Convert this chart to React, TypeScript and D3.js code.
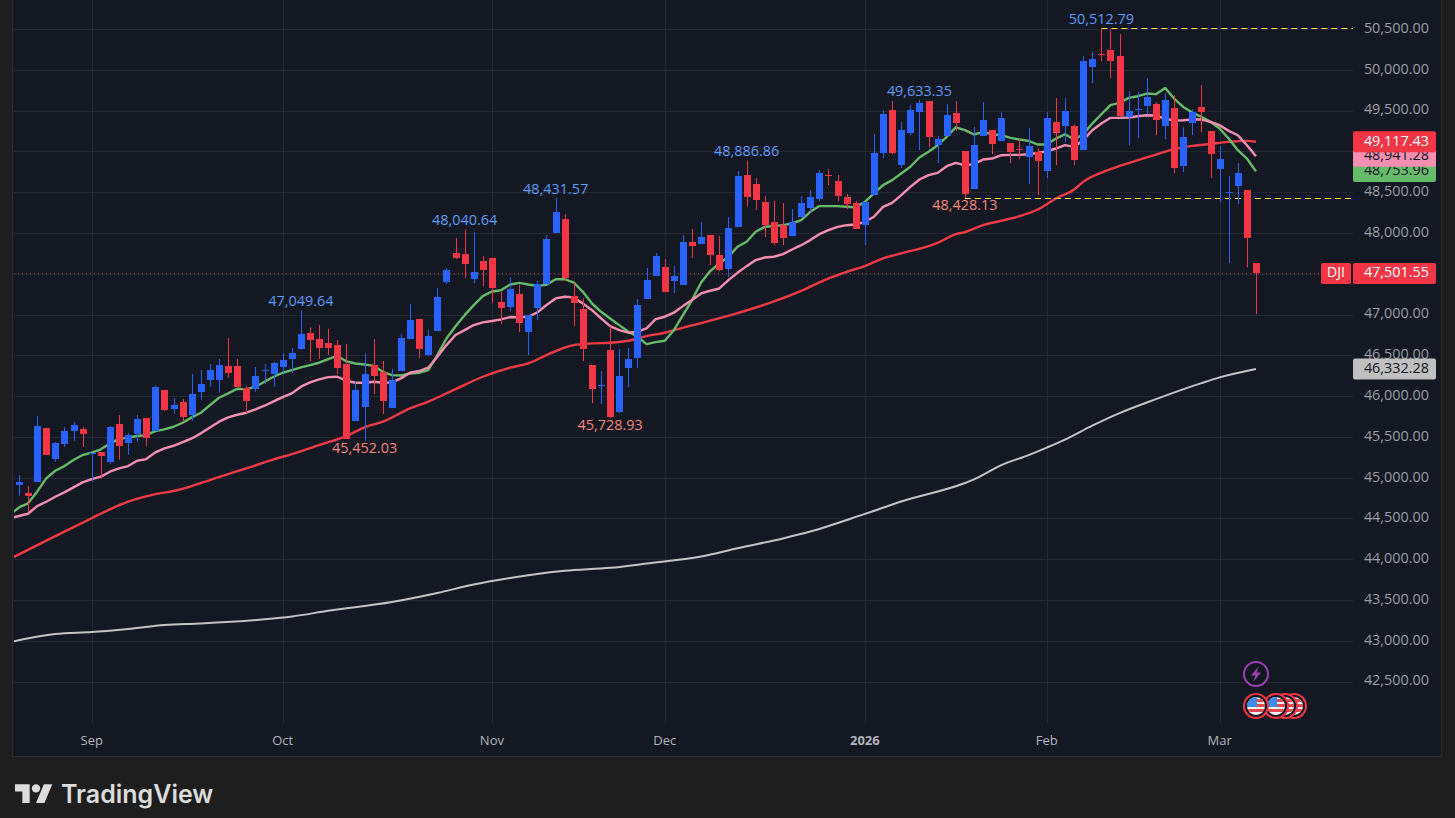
import * as d3 from 'd3';

// Dow Jones daily bars, Aug 2025 to Mar 2026
const opens = [44914,44811,44950,45608,45232,45412,45571,45596,45293,45314,45195,45657,45424,45534,45731,45571,46074,45841,45927,45767,46049,46196,46196,46368,46368,46098,46086,46311,46270,46356,46454,46576,46772,46699,46650,46625,46392,45698,45866,46380,46295,45853,46307,46699,46944,46503,46797,47398,47753,47741,47434,47655,47692,47152,47091,47250,46785,47079,47373,47998,48169,47226,47066,46380,46127,46564,45804,46344,46466,47189,47471,47581,47410,47361,47888,47863,47973,47728,47557,48072,48709,48598,48378,48133,48096,47961,48194,48304,48415,48709,48635,48439,48366,48096,48464,48978,49505,48831,49223,49481,49615,49076,49187,49469,49003,48537,49187,49260,49125,49100,49027,48929,48990,48757,49357,49308,49308,49014,50031,50191,50240,50166,49419,49517,49554,49578,49308,49529,48818,49345,49541,49247,48781,48487,48573,48524,47629];
const highs = [45032,44897,45755,45608,45436,45620,45682,45620,45302,45314,45633,45767,45547,45767,45731,46135,46074,45976,45963,46270,46319,46392,46454,46711,46454,46123,46356,46392,46425,46527,46588,47049.64,46842,46870,46825,46686,46637,46176,46523,46699,46429,46331,46760,47128,46944,46809,47324,47569,47937,48040.64,48010,47716,47692,47275,47459,47361,46993,47410,47974,48431.57,48230,47385,47201,46380,46307,46858,46576,46589,47189,47569,47753,47679,47594,47973,48047,48133,47973,47961,48194,48758,48886.86,48672,48451,48390,48366,48292,48451,48525,48770,48782,48709,48476,48390,48378,49211,49505,49616,49358,49567,49633.35,49615,49187,49579,49615,49003,49297,49603,49260,49480,49100,49149,49284,49039,49480,49652,49652,49333,50166,50215,50512.79,50497,50436,49737,49725,49897,49603,49713,49688,49296,49517,49811,49247,49063,48696,48855,48524,47629];
const lows = [44779,44574,44950,45281,45195,45379,45453,45375,44950,44987,45171,45220,45281,45441,45391,45571,45816,45784,45682,45698,45955,46115,46041,46225,46110,45792,46053,46147,46115,46282,46286,46568,46429,46454,46503,46270,45473,45690,45452.03,46025,45780,45853,46307,46699,46466,46490,46797,47373,47679,47447,47385,47349,47140,46883,47042,46785,46503,46932,47373,47998,47410,46858,46429,45915,45902,45728.93,45792,46111,46344,47189,47471,47275,47263,47361,47692,47863,47606,47532,47459,48072,48329,48280,47949,47851,47851,47961,48194,48255,48390,48586,48390,48292,48047,47851,48464,48917,48966,48795,49199,49015,49052,48856,49187,49248,48428.13,48537,49187,48966,49125,48855,48904,48598,48463,48671,48830,49112,48830,49014,49835,50105,49897,49419,49076,49161,49443,49198,49149,48732,48745,49198,49235,48671,48377,47629,48353,47580,47004];
const closes = [44946,44779,45633,45281,45424,45571,45645,45534,45302,45269,45620,45391,45522,45718,45490,46110,45829,45890,45743,46025,46147,46319,46380,46282,46110,45939,46245,46319,46405,46441,46527,46760,46686,46588,46588,46343,45473,46074,46270,46246,45939,46197,46711,46932,46576,46736,47214,47545,47692,47618,47520,47545,47324,47079,47312,46895,46993,47373,47924,48255,47447,47140,46576,46086,46135,45743,46246,46454,47116,47422,47716,47275,47471,47888,47839,47949,47728,47545,48059,48697,48439,48402,48096,47875,47937,48133,48366,48439,48733,48701,48451,48353,48047,48378,48978,49456,48978,49260,49505,49591,49174,49150,49444,49346,48476,49076,49383,49089,49406,48990,49018,49063,48879,49406,49223,49492,48892,50105,50130,50183,50105,49431,49492,49525,49664,49382,49627,48794,49174,49480,49480,48965,48904,48496,48732,47936,47501.55];

// moving averages, first value belongs to the bar before the first candle
const greenMa = [44542,44636,44685,44828,44991,45085,45142,45216,45277,45306,45347,45420,45473,45494,45510,45522,45571,45592,45624,45673,45739,45796,45890,45980,46033,46090,46082,46115,46176,46237,46286,46319,46351,46380,46409,46454,46494,46425,46400,46388,46371,46298,46257,46253,46277,46285,46318,46502,46706,46857,46992,47115,47225,47282,47298,47368,47388,47368,47352,47364,47433,47433,47392,47278,47135,47033,46951,46870,46788,46727,46637,46661,46678,46808,46993,47177,47393,47532,47626,47708,47830,47892,48014,48076,48084,48096,48116,48157,48259,48329,48329,48329,48321,48313,48382,48484,48586,48647,48729,48811,48925,48995,49076,49179,49293,49260,49207,49240,49210,49198,49165,49145,49129,49084,49084,49157,49210,49145,49210,49341,49455,49566,49594,49656,49676,49709,49701,49778,49647,49545,49476,49423,49362,49280,49157,49014,48912,48753.96];
const pinkMa = [44501,44530,44558,44652,44705,44766,44820,44881,44942,44983,45012,45073,45114,45142,45208,45228,45310,45359,45391,45436,45481,45543,45616,45686,45739,45771,45796,45837,45882,45935,45988,46033,46115,46168,46204,46233,46237,46188,46164,46164,46176,46164,46168,46217,46286,46307,46348,46482,46625,46748,46809,46871,46903,46920,46940,46969,46965,46973,47026,47116,47197,47218,47210,47136,47054,46952,46858,46809,46777,46789,46830,46944,46973,47022,47103,47177,47258,47291,47319,47422,47511,47593,47667,47699,47708,47740,47797,47850,47912,47985,48034,48075,48095,48103,48136,48198,48320,48369,48463,48565,48655,48708,48736,48818,48859,48830,48843,48900,48912,48953,48957,48957,48965,48982,49002,49035,49076,49055,49137,49259,49341,49411,49411,49415,49431,49443,49439,49402,49378,49382,49390,49390,49362,49321,49251,49198,49076,48941.28];
const redIdx = [-1,4,8,10,12,15,17,19,21,23,25,28,30,33,36,38,40,43,45,48,51,54,56,58,59,61,63,65,67,69,71,72,75,79,83,86,89,91,93,95,97,101,103,104,106,108,110,112,114,116,117,120,123,125,127,129,131,133,135,136];
const redMa = [44002,44284,44503,44611,44705,44799,44836,44897,44971,45044,45114,45224,45289,45400,45510,45616,45686,45849,45931,46086,46237,46348,46401,46503,46552,46625,46646,46654,46678,46735,46776,46808,46895,47017,47160,47291,47442,47524,47594,47688,47749,47879,47986,48010,48096,48149,48205,48287,48422,48532,48626,48781,48892,48961,49027,49067,49092,49116,49129,49117.43];
const whiteIdx = [-1,4,8,12,16,20,27,30,34,41,46,50,54,60,65,69,75,79,84,87,93,97,104,105,108,111,113,115,118,121,125,130,132,136];
const whiteMa = [42985,43083,43108,43145,43194,43212,43263,43298,43368,43475,43586,43690,43770,43858,43895,43947,44033,44135,44255,44339,44556,44707,44934,44979,45154,45277,45369,45467,45638,45792,45963,46159,46229,46332.28];

const priceTicks = d3.range(42500, 50501, 500);
const monthIdx = [8, 29, 52, 71, 93, 113, 132];
const monthLabels = ['Sep', 'Oct', 'Nov', 'Dec', '2026', 'Feb', 'Mar'];

const highMarks = [31, 49, 59, 80, 99, 119];
const lowMarks = [38, 65, 104];

const BLUE = '#2962ff';
const RED = '#f23645';
const FONT = '"Open Sans", sans-serif';

const x = d3.scaleLinear().domain([8, 132]).range([91.7, 1219.6]);
const y = d3.scaleLinear().domain([42500, 50500]).range([681.6, 29]);
const fmt = d3.format(',.2f');
const crisp = (v: number) => Math.round(v) + 0.5;

const plotLeft = 14;
const plotRight = 1353;
const plotBottom = 723;

const dense = d3.line<number>().x((_, i) => x(i - 1)).y((d) => y(d));
const sparse = (idx: number[]) =>
  d3.line<number>().x((_, i) => x(idx[i])).y((d) => y(d)).curve(d3.curveMonotoneX);

// axis tags on the right, drawn back to front
const tags = [
  { value: greenMa[greenMa.length - 1], bg: '#66bb6a', fg: '#131722', h: 21 },
  { value: pinkMa[pinkMa.length - 1], bg: '#f48fb1', fg: '#131722', h: 21 },
  { value: redMa[redMa.length - 1], bg: RED, fg: '#ffffff', h: 21 },
  { value: whiteMa[whiteMa.length - 1], bg: '#c0c0c0', fg: '#131722', h: 21 },
  { value: closes[closes.length - 1], bg: RED, fg: '#ffffff', h: 21 },
];

const flags = [1294, 1285, 1276, 1256];

const Flag = ({ cx }: { cx: number }) => (
  <g transform={`translate(${cx},706)`}>
    <circle r={12} fill="#131722" stroke="#f23645" strokeWidth={2} />
    <clipPath id={`flag${cx}`}><circle r={9} /></clipPath>
    <g clipPath={`url(#flag${cx})`}>
      <rect x={-9} y={-9} width={18} height={18} fill="#f4f4f4" />
      {[-7, -2, 3].map((s) => (
        <rect key={s} x={-9} y={s} width={18} height={3} fill="#e8474f" />
      ))}
      <rect x={-9} y={-9} width={10} height={10} fill="#3d8bea" />
    </g>
  </g>
);

export default function App() {
  const lastY = Math.floor(y(47501.55)) + 0.5;
  return (
    <svg
      width={1455}
      height={818}
      style={{ position: 'absolute', left: 0, top: 0, display: 'block', fontFamily: FONT }}
    >
      <defs>
        <clipPath id="plot">
          <rect x={plotLeft} y={0} width={plotRight - plotLeft} height={plotBottom} />
        </clipPath>
      </defs>
      <rect width={1455} height={818} fill="#1e1e1e" />
      <rect x={12.5} y={-2} width={1429} height={758.5} fill="#141823" stroke="#2a2c30" />

      {/* grid */}
      {priceTicks.map((p) => (
        <line key={p} x1={plotLeft} x2={plotRight} y1={crisp(y(p))} y2={crisp(y(p))} stroke="#232733" />
      ))}
      {monthIdx.map((m) => (
        <line key={m} x1={crisp(x(m))} x2={crisp(x(m))} y1={0} y2={plotBottom} stroke="#232733" />
      ))}

      {/* moving averages sit under the candles */}
      <g clipPath="url(#plot)" fill="none" strokeWidth={2.4} strokeLinejoin="round">
        <path d={sparse(whiteIdx)(whiteMa) ?? ''} stroke="#c4c4c4" strokeWidth={2} />
        <path d={sparse(redIdx)(redMa) ?? ''} stroke="#ef3a48" />
        <path d={dense(greenMa) ?? ''} stroke="#66bb6a" />
        <path d={dense(pinkMa) ?? ''} stroke="#f48fb1" />
      </g>

      {/* last price and high / low guides */}
      <line x1={plotLeft} x2={plotRight} y1={lastY} y2={lastY} stroke={RED} strokeOpacity={0.7} strokeDasharray="1 3" />
      <line x1={x(119)} x2={plotRight} y1={crisp(y(50512.79))} y2={crisp(y(50512.79))} stroke="#ffeb3b" strokeDasharray="6 4" />
      <line x1={x(104)} x2={plotRight} y1={crisp(y(48428.13))} y2={crisp(y(48428.13))} stroke="#ffeb3b" strokeDasharray="6 4" />

      {/* candles */}
      {closes.map((c, i) => {
        const o = opens[i];
        const color = c >= o ? BLUE : RED;
        const px = Math.round(x(i));
        const top = y(Math.max(o, c));
        const bottom = y(Math.min(o, c));
        return (
          <g key={i} fill={color}>
            <rect x={px} y={y(highs[i])} width={1} height={y(lows[i]) - y(highs[i])} />
            <rect x={px - 3} y={Math.round(top)} width={7} height={Math.max(1, Math.round(bottom - top))} />
          </g>
        );
      })}

      {/* high / low labels */}
      <g fontSize={14.4} textAnchor="middle" dominantBaseline="middle">
        {highMarks.map((i) => (
          <text key={i} x={x(i)} y={y(highs[i]) - 8} fill="#5b9cf6">{fmt(highs[i])}</text>
        ))}
        {lowMarks.map((i) => (
          <text key={i} x={x(i)} y={y(lows[i]) + 8} fill="#f7867e">{fmt(lows[i])}</text>
        ))}
      </g>

      {/* price axis */}
      <g fontSize={14.4} fill="#9a9da6" textAnchor="end" dominantBaseline="middle">
        {priceTicks.map((p) => (
          <text key={p} x={1429} y={y(p)}>{fmt(p)}</text>
        ))}
      </g>
      {tags.map((t) => (
        <g key={t.bg + t.value}>
          <rect x={1353} y={y(t.value) - t.h / 2} width={83} height={t.h} rx={2} fill={t.bg} />
          <text x={1429} y={y(t.value)} fontSize={14.4} fill={t.fg} textAnchor="end" dominantBaseline="middle">{fmt(t.value)}</text>
        </g>
      ))}
      <rect x={1321} y={y(47501.55) - 10.5} width={30} height={21} rx={2} fill={RED} />
      <text x={1336} y={y(47501.55)} fontSize={14} fill="#ffffff" textAnchor="middle" dominantBaseline="middle">DJI</text>

      {/* time axis */}
      <g fontSize={13} fill="#b2b5be" textAnchor="middle">
        {monthIdx.map((m, i) => (
          <text key={m} x={x(m)} y={745} fontWeight={monthLabels[i] === '2026' ? 700 : 400}>{monthLabels[i]}</text>
        ))}
      </g>

      {/* event markers */}
      <g transform="translate(1256,674)">
        <circle r={12} fill="#131722" stroke="#9c3fb0" strokeWidth={2} />
        <path d="M3 -8 L-5 1.5 L-0.5 1.5 L-3 8 L5 -1.5 L0.5 -1.5 Z" fill="#9c3fb0" />
      </g>
      {flags.map((cx) => <Flag key={cx} cx={cx} />)}

      {/* branding */}
      <g transform="translate(15,780) scale(1.05)" fill="#dcdcdc">
        <path d="M14 22H7V11H0V4h14v18zM28 22h-8l7.5-18h8L28 22z" />
        <circle cx={20} cy={8} r={4} />
      </g>
      <text x={61} y={803} fontFamily='"Inter", sans-serif' fontWeight={600} fontSize={25} fill="#dcdcdc">TradingView</text>
    </svg>
  );
}
